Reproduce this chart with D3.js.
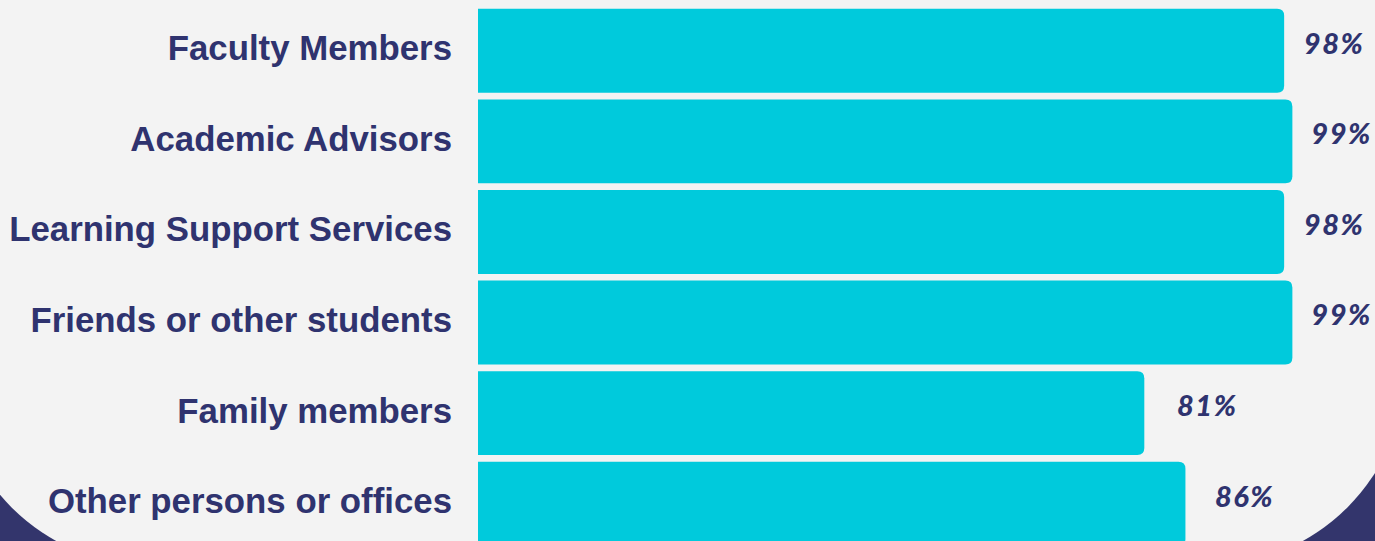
<!DOCTYPE html>
<html>
<head>
<meta charset="utf-8">
<script src="https://cdn.jsdelivr.net/npm/d3@7"></script>
<style>
  html, body { margin: 0; padding: 0; background: #33356c; overflow: hidden; }
  svg { display: block; }
</style>
</head>
<body>
<svg></svg>
<script>
// Chart data
const categories = ["Faculty Members", "Academic Advisors", "Learning Support Services",
                    "Friends or other students", "Family members", "Other persons or offices"];
const values = [98, 99, 98, 99, 81, 86];

const W = 1375, H = 541;
const navy = "#33356c", textColor = "#2f336f", barColor = "#00cadc";

const svg = d3.select("svg")
    .attr("width", W)
    .attr("height", H);

// Navy page with a light card whose bottom corners are rounded
const card = {x: -47, y: -250, w: 1453, h: 816, r: 200};
svg.append("rect")
    .attr("width", W).attr("height", H)
    .attr("fill", navy);
svg.append("rect")
    .attr("x", card.x).attr("y", card.y)
    .attr("width", card.w).attr("height", card.h)
    .attr("rx", card.r).attr("ry", card.r)
    .attr("fill", "#f3f3f3");

const data = categories.map((c, i) => ({cat: c, val: values[i]}));

// Scales
const x = d3.scaleLinear()
    .domain([0, 100])
    .range([478, 1300.6]);

const y = d3.scaleBand()
    .domain(categories)
    .range([5.5, 549])
    .paddingInner(0.074)
    .paddingOuter(0.037);

// value labels sit a bit further right than the bar ends
const lx = d3.scaleLinear()
    .domain([0, 100])
    .range([603, 1349]);

// bar with rounded right corners only
function barPath(x0, x1, y0, h, r) {
  return `M${x0},${y0}H${x1 - r}Q${x1},${y0} ${x1},${y0 + r}` +
         `V${y0 + h - r}Q${x1},${y0 + h} ${x1 - r},${y0 + h}H${x0}Z`;
}

svg.append("g")
  .selectAll("path")
  .data(data)
  .enter()
  .append("path")
    .attr("d", d => barPath(x(0), x(d.val), y(d.cat), y.bandwidth(), 7))
    .attr("fill", barColor);

// Category labels
svg.append("g")
  .selectAll("text")
  .data(data)
  .enter()
  .append("text")
    .attr("x", 452)
    .attr("y", d => y(d.cat) + y.bandwidth() / 2)
    .attr("dy", "0.27em")
    .attr("text-anchor", "end")
    .style("font-family", "'Liberation Sans', Arial, sans-serif")
    .style("font-weight", "bold")
    .style("font-size", "34.8px")
    .style("fill", textColor)
    .text(d => d.cat);

// Value labels
svg.append("g")
  .selectAll("text")
  .data(data)
  .enter()
  .append("text")
    .attr("x", d => lx(d.val))
    .attr("y", d => y(d.cat) + y.bandwidth() / 2)
    .attr("dy", "0.1em")
    .attr("text-anchor", "middle")
    .style("font-family", "Lato, 'Open Sans', sans-serif")
    .style("font-weight", "900")
    .style("font-style", "italic")
    .style("font-size", "29px")
    .style("letter-spacing", "1.5px")
    .style("fill", textColor)
    .text(d => d.val + "%");
</script>
</body>
</html>
